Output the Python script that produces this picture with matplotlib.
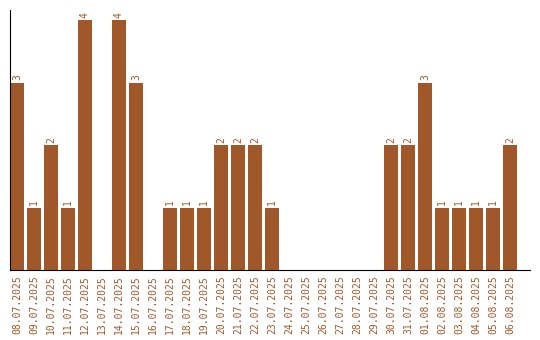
import matplotlib
matplotlib.use('Agg')
import matplotlib.pyplot as plt
import numpy as np

dates = ['08.07.2025', '09.07.2025', '10.07.2025', '11.07.2025', '12.07.2025',
         '13.07.2025', '14.07.2025', '15.07.2025', '16.07.2025', '17.07.2025',
         '18.07.2025', '19.07.2025', '20.07.2025', '21.07.2025', '22.07.2025',
         '23.07.2025', '24.07.2025', '25.07.2025', '26.07.2025', '27.07.2025',
         '28.07.2025', '29.07.2025', '30.07.2025', '31.07.2025', '01.08.2025',
         '02.08.2025', '03.08.2025', '04.08.2025', '05.08.2025', '06.08.2025']
counts = [3, 1, 2, 1, 4, 0, 4, 3, 0, 1, 1, 1, 2, 2, 2, 1, 0, 0, 0, 0,
          0, 0, 2, 2, 3, 1, 1, 1, 1, 2]

col = '#a0572a'
fig = plt.figure(figsize=(5.4, 3.4), dpi=100)
ax = fig.add_axes([10/540, 70/340, 520/540, 260/340])

x = np.arange(len(dates))
ax.bar(x, counts, width=0.82, color=col)

for xi, c in zip(x, counts):
    if c > 0:
        ax.text(xi, c + 0.04, str(c), rotation=90, ha='center', va='bottom',
                color=col, family='DejaVu Sans Mono', fontsize=7)

ax.set_xlim(-0.41, 30.18)
ax.set_ylim(0, 4.16)
ax.set_xticks(x)
ax.set_xticklabels(dates, rotation=90, family='DejaVu Sans Mono', fontsize=7, color=col)
ax.tick_params(axis='x', length=0, pad=4)
ax.set_yticks([])
ax.spines['top'].set_visible(False)
ax.spines['right'].set_visible(False)

fig.savefig('out.png', dpi=100)
